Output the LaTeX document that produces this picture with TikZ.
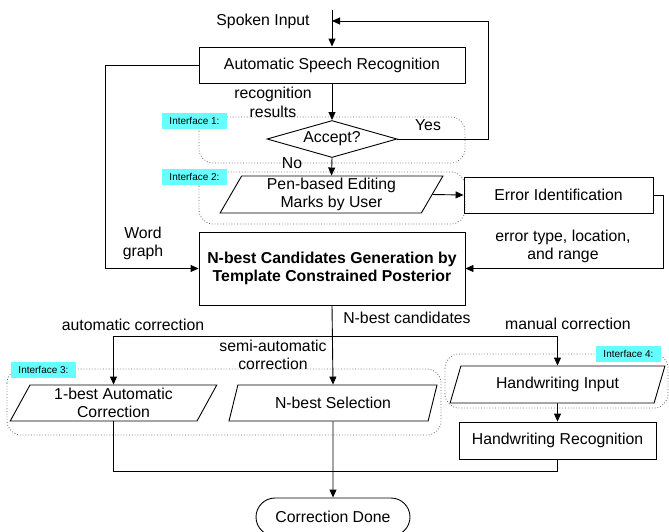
\documentclass[tikz,border=0pt]{standalone}
\usepackage{fontspec}
\setmainfont{Liberation Sans}
\usetikzlibrary{shapes.geometric, shapes.misc, arrows.meta}

\definecolor{labelcyan}{RGB}{102,255,255}

\tikzset{
    box/.style = {draw, minimum height = 36pt, inner sep = 0pt, align = center},
    para/.style = {draw, trapezium, trapezium left angle = 65, trapezium right angle = 115,
        trapezium stretches = true, minimum height = 37pt, inner sep = 0pt, align = center},
    iface/.style = {draw = black!60, dotted, rounded corners = 14pt, line width = 0.8pt},
    ilabel/.style = {fill = labelcyan, font = \fontsize{10}{12}\selectfont,
        minimum width = 65pt, minimum height = 16pt, inner sep = 0pt},
    lbl/.style = {align = center},
}

\begin{document}
\begin{tikzpicture}[x = 1pt, y = -1pt, line width = 0.9pt,
    font = \fontsize{15.8}{18.5}\selectfont, >= {Triangle[length = 8pt, width = 7pt]}]
    \useasboundingbox (0,0) rectangle (669,531);

    % interfaces
    \draw [iface] (199,117) rectangle (465,163);
    \draw [iface] (199,172) rectangle (465,224);
    \draw [iface] (7,369) rectangle (441,435);
    \draw [iface] (445,354) rectangle (668,408);

    % blocks
    \node (asr) at (332,65) [box, minimum width = 266pt] {Automatic Speech Recognition};
    \node (accept) at (332,139) [draw, diamond, aspect = 3.5, inner sep = 0pt,
        minimum width = 130pt, minimum height = 37pt] {Accept?};
    \node (pen) at (331.5,194.5) [para, minimum width = 223pt] {Pen-based Editing\\Marks by User};
    \node (err) at (558.5,195) [box, minimum width = 189pt] {Error Identification};
    \node (nbest) at (332,268.5) [box, minimum width = 266pt, minimum height = 73pt,
        font = \fontsize{15.8}{18.5}\selectfont\bfseries]
        {N-best Candidates Generation by\\Template Constrained Posterior};
    \node (onebest) at (113.5,403) [para, minimum width = 207pt, minimum height = 36pt]
        {1-best Automatic\\Correction};
    \node (nsel) at (333,403) [para, minimum width = 208pt, minimum height = 36pt] {N-best Selection};
    \node (hwin) at (557.5,384.5) [para, minimum width = 215pt] {Handwriting Input};
    \node (hwrec) at (557.5,440.5) [box, minimum width = 197pt, minimum height = 37pt]
        {Handwriting Recognition};
    \node (done) at (333,517) [draw, rounded rectangle, minimum width = 154pt,
        minimum height = 38pt, inner sep = 0pt] {Correction Done};

    % interface labels
    \node (lab1) at (194.5,121) [ilabel] {Interface 1:};
    \node (lab2) at (194.5,176.5) [ilabel] {Interface 2:};
    \node (lab3) at (43.5,369.5) [ilabel] {Interface 3:};
    \node (lab4) at (628.5,353.5) [ilabel] {Interface 4:};

    % texts
    \node (spoken) at (263,21) [lbl] {Spoken Input};
    \node (recres) at (273,102.5) [lbl] {recognition\\results};
    \node (yes) at (428,125) [lbl] {Yes};
    \node (no) at (292,163) [lbl] {No};
    \node (wordg) at (143,243.5) [lbl] {Word\\graph};
    \node (errtype) at (563,246.5) [lbl] {error type, location,\\and range};
    \node (cands) at (407,318) [lbl] {N-best candidates};
    \node (autoc) at (133,325) [lbl] {automatic correction};
    \node (semic) at (273,355) [lbl] {semi-automatic\\correction};
    \node (manc) at (568,324) [lbl] {manual correction};

    \coordinate (start) at (332,10);
    \coordinate (merge) at (332,21);
    \coordinate (split) at (332,336);
    \coordinate (join) at (332,471);

    % connectors
    \draw [->] (start) -- (asr.north);
    \draw [->] (asr.south) -- (accept.north);
    \draw [->] (accept.east) -| ([xshift = 156pt]merge) -- (merge);
    \draw [->] (accept.south) -- (pen.north);
    \draw [->] (pen.east) -- (err.west);
    \draw [->] (err.east) -- ++(10,0) |- (nbest.east);
    \draw [->] (asr.west) -- ++(-93,0) |- (nbest.west);
    \draw [->] (nbest.south) -- (nsel.north);
    \draw [->] (split) -| (onebest.north);
    \draw [->] (split) -| (hwin.north);
    \draw [->] (hwin.south) -- (hwrec.north);
    \draw (onebest.south) |- (join);
    \draw (hwrec.south) |- (join);
    \draw [->] (nsel.south) -- (done.north);
\end{tikzpicture}
\end{document}
